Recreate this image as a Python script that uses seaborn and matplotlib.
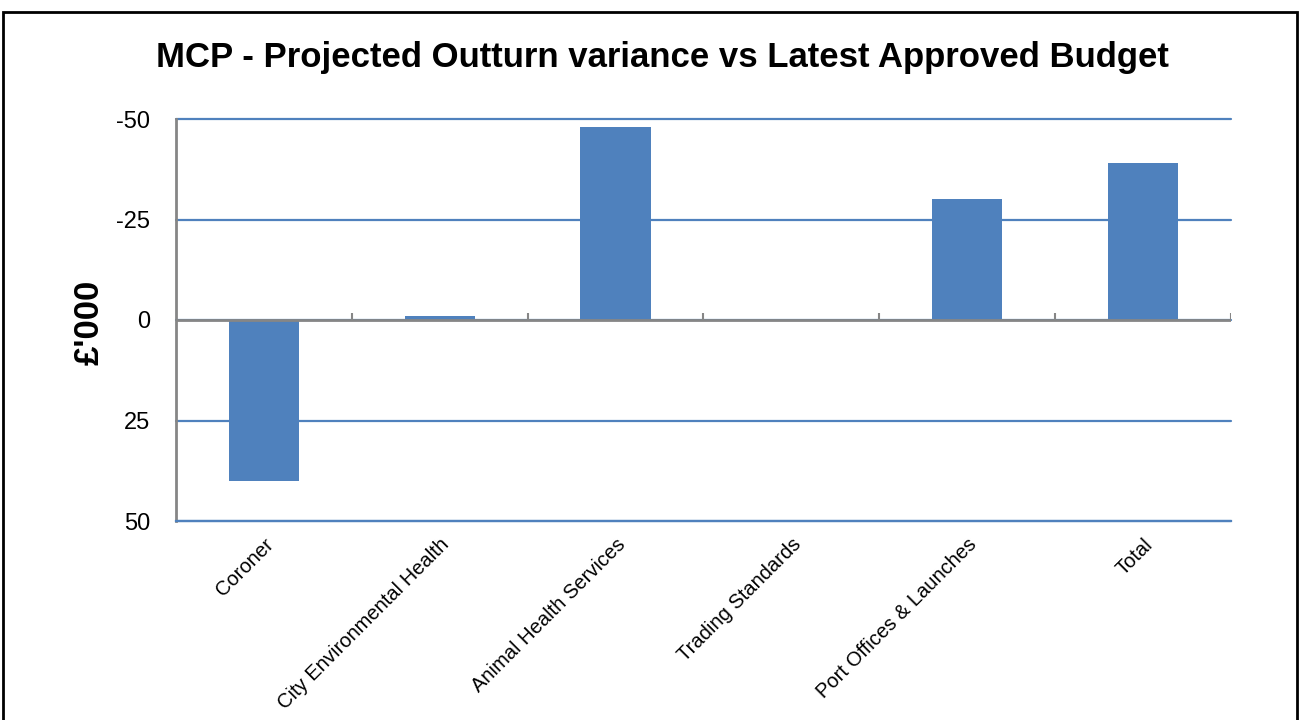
import numpy as np
import pandas as pd
import matplotlib
matplotlib.use('Agg')
import matplotlib.pyplot as plt
import seaborn as sns
from matplotlib.patches import Rectangle

sns.set_style('white')
plt.rcParams['font.family'] = ['Liberation Sans', 'DejaVu Sans']
plt.rcParams['text.color'] = 'black'
plt.rcParams['xtick.labelcolor'] = 'black'
plt.rcParams['ytick.labelcolor'] = 'black'

categories = ['Coroner', 'City Environmental Health', 'Animal Health Services',
              'Trading Standards', 'Port Offices & Launches', 'Total']
variance = [40, -1, -48, 0, -30, -39]
y_ticks = [-50, -25, 0, 25, 50]

blue = '#4F81BD'
grey = '#868686'

df = pd.DataFrame({'service': categories, 'variance': variance})

fig = plt.figure(figsize=(13, 7.2), dpi=100)
ax = fig.add_axes([176 / 1300, 1 - 521 / 720, (1231 - 176) / 1300, (521 - 119) / 720])

sns.barplot(data=df, x='service', y='variance', color=blue, width=0.4,
            saturation=1, linewidth=0, ax=ax, zorder=3)

ax.set_xlim(-0.5, len(categories) - 0.5)
ax.set_ylim(50, -50)
ax.set_yticks(y_ticks)
ax.set_yticklabels([str(v) for v in y_ticks], fontsize=17)
ax.yaxis.grid(True, color=blue, linewidth=1.6, zorder=0)
for gl in ax.get_ygridlines():
    gl.set_clip_on(False)
ax.set_axisbelow(True)

# zero line with category boundary ticks
ax.axhline(0, color=grey, linewidth=2, zorder=4)
bounds = np.arange(len(categories) + 1) - 0.5
ax.vlines(bounds[1:], 0, -1.8, color=grey, linewidth=1.5, zorder=4)

for s in ['top', 'right']:
    ax.spines[s].set_visible(False)
ax.spines['bottom'].set_color(blue)
ax.spines['bottom'].set_linewidth(1.6)
ax.spines['left'].set_color(grey)
ax.spines['left'].set_linewidth(2)
ax.tick_params(axis='y', length=6.5, width=1.5, color=grey, direction='out', pad=12)
ax.tick_params(axis='x', length=0, pad=10)
ax.set_xticks(range(len(categories)))
ax.set_xticklabels(categories, rotation=45, ha='right', rotation_mode='anchor',
                   fontsize=14.5)
ax.set_xlabel('')
ax.set_ylabel('')

fig.text(89 / 1300, 1 - 322 / 720, "£'000", rotation=90, ha='center', va='center',
         fontsize=25, fontweight='bold')
fig.text(662 / 1300, 1 - 57 / 720,
         'MCP - Projected Outturn variance vs Latest Approved Budget',
         ha='center', va='center', fontsize=25, fontweight='bold')

fig.patches.append(Rectangle((3 / 1300, -0.1), 1294 / 1300, 1.1 - 12 / 720,
                             transform=fig.transFigure, fill=False,
                             edgecolor='black', linewidth=2))

fig.savefig('out.png', dpi=100)
